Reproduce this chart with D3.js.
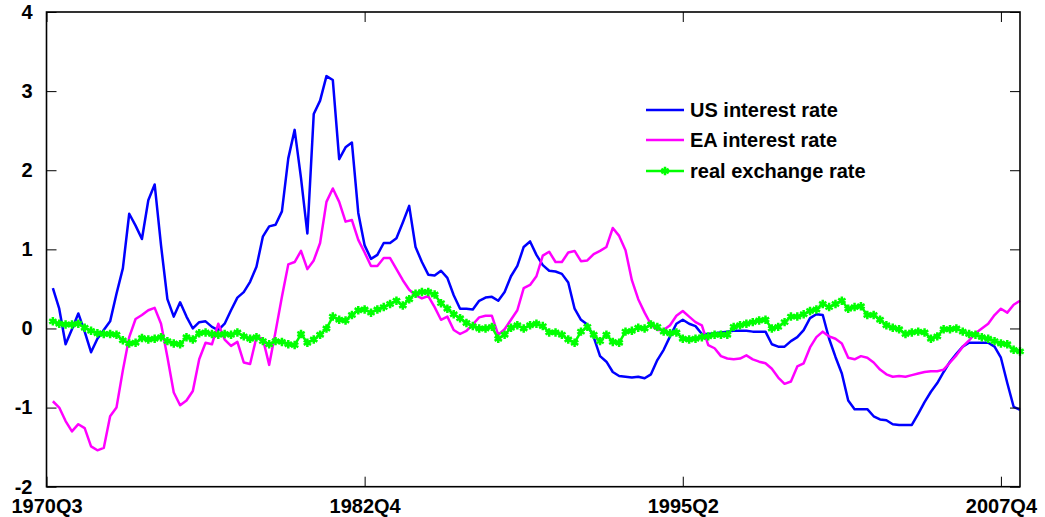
<!DOCTYPE html>
<html>
<head>
<meta charset="utf-8">
<script src="https://d3js.org/d3.v7.min.js"></script>
<style>
  html, body { margin: 0; padding: 0; background: #fff; }
  text { font-family: "Liberation Sans", Arial, Helvetica, sans-serif; font-weight: bold; }
</style>
</head>
<body>
<svg id="chart" width="1045" height="517"></svg>
<script>
// ---- data (quarterly, first observation is quarter index 2, 1970Q3 = index 1) ----
const firstIndex = 2;
const usRate = [0.51,0.25,-0.20,-0.01,0.19,-0.04,-0.30,-0.13,-0.02,0.09,
  0.44,0.76,1.45,1.30,1.13,1.62,1.82,1.05,0.37,0.15,
  0.33,0.15,0.00,0.08,0.09,0.02,-0.02,0.06,0.23,0.39,
  0.46,0.59,0.78,1.16,1.29,1.31,1.48,2.15,2.51,1.90,
  1.20,2.71,2.88,3.19,3.14,2.14,2.29,2.35,1.46,1.05,
  0.88,0.93,1.08,1.08,1.14,1.34,1.55,1.03,0.84,0.68,
  0.67,0.73,0.64,0.42,0.25,0.25,0.24,0.35,0.39,0.40,
  0.35,0.46,0.66,0.79,1.03,1.10,0.93,0.80,0.73,0.72,
  0.69,0.58,0.25,0.11,0.05,-0.11,-0.35,-0.42,-0.55,-0.60,
  -0.61,-0.62,-0.61,-0.63,-0.58,-0.40,-0.27,-0.10,0.06,0.11,
  0.06,0.03,-0.07,-0.07,-0.06,-0.05,-0.04,-0.03,-0.03,-0.03,
  -0.04,-0.04,-0.04,-0.20,-0.23,-0.23,-0.16,-0.11,-0.02,0.13,
  0.18,0.17,-0.13,-0.36,-0.57,-0.91,-1.02,-1.02,-1.02,-1.11,
  -1.15,-1.16,-1.21,-1.22,-1.22,-1.22,-1.08,-0.93,-0.80,-0.69,
  -0.55,-0.42,-0.32,-0.23,-0.18,-0.18,-0.18,-0.18,-0.23,-0.37,
  -0.69,-0.99,-1.03];
const eaRate = [-0.92,-1.00,-1.17,-1.30,-1.21,-1.26,-1.49,-1.54,-1.51,-1.11,
  -1.00,-0.53,-0.11,0.12,0.17,0.23,0.26,0.06,-0.36,-0.81,
  -0.97,-0.91,-0.79,-0.39,-0.18,-0.20,0.06,-0.14,-0.22,-0.17,
  -0.43,-0.45,-0.11,-0.13,-0.46,-0.04,0.40,0.81,0.84,0.98,
  0.75,0.86,1.08,1.60,1.77,1.60,1.35,1.37,1.12,0.96,
  0.79,0.79,0.89,0.89,0.75,0.61,0.49,0.42,0.38,0.41,
  0.27,0.11,0.15,-0.02,-0.07,-0.03,0.05,0.14,0.16,0.16,
  -0.08,-0.01,0.11,0.23,0.51,0.55,0.66,0.92,0.97,0.84,
  0.84,0.96,0.98,0.85,0.86,0.94,0.98,1.03,1.27,1.17,
  0.99,0.61,0.37,0.20,0.05,-0.02,-0.02,0.04,0.16,0.22,
  0.15,0.08,0.04,-0.21,-0.25,-0.35,-0.38,-0.39,-0.38,-0.34,
  -0.39,-0.42,-0.44,-0.51,-0.62,-0.70,-0.67,-0.48,-0.44,-0.24,
  -0.11,-0.04,-0.10,-0.13,-0.19,-0.37,-0.39,-0.35,-0.37,-0.43,
  -0.52,-0.58,-0.61,-0.60,-0.61,-0.59,-0.57,-0.55,-0.54,-0.54,
  -0.52,-0.43,-0.34,-0.23,-0.15,-0.06,0.00,0.06,0.17,0.25,
  0.20,0.30,0.35];
const realExRate = [0.09,0.06,0.05,0.05,0.06,0.01,-0.03,-0.06,-0.07,-0.07,
  -0.08,-0.15,-0.19,-0.18,-0.12,-0.14,-0.13,-0.11,-0.16,-0.19,
  -0.20,-0.11,-0.14,-0.06,-0.05,-0.07,-0.08,-0.07,-0.08,-0.05,
  -0.10,-0.13,-0.11,-0.16,-0.20,-0.16,-0.17,-0.20,-0.21,-0.07,
  -0.18,-0.14,-0.08,0.00,0.15,0.11,0.10,0.17,0.23,0.24,
  0.20,0.24,0.27,0.31,0.35,0.29,0.37,0.44,0.46,0.46,
  0.43,0.32,0.25,0.18,0.13,0.07,0.03,0.00,0.00,0.02,
  -0.13,-0.08,0.01,0.04,0.00,0.04,0.06,0.03,-0.05,-0.05,
  -0.08,-0.14,-0.18,-0.04,0.02,-0.08,-0.16,-0.08,-0.17,-0.18,
  -0.04,-0.03,0.01,0.00,0.05,0.02,-0.04,-0.06,-0.05,-0.13,
  -0.14,-0.13,-0.11,-0.10,-0.08,-0.08,-0.08,0.02,0.04,0.06,
  0.08,0.10,0.11,0.00,0.02,0.08,0.15,0.15,0.18,0.22,
  0.24,0.31,0.27,0.31,0.35,0.25,0.27,0.28,0.17,0.17,
  0.11,0.04,0.01,-0.01,-0.07,-0.05,-0.04,-0.05,-0.13,-0.10,
  -0.01,-0.01,0.00,-0.04,-0.07,-0.08,-0.11,-0.13,-0.16,-0.19,
  -0.20,-0.27,-0.29];
const xTickIndex = [1, 51, 101, 151];
const xTickLabels = ["1970Q3", "1982Q4", "1995Q2", "2007Q4"];
const yTicks = [-2, -1, 0, 1, 2, 3, 4];
const yTickLabels = ["-2", "-1", "0", "1", "2", "3", "4"];
const seriesNames = ["US interest rate", "EA interest rate", "real exchange rate"];
const seriesColors = ["#0000ff", "#ff00ff", "#00ff00"];

// ---- layout ----
const L = 46.5, R = 1020, T = 12, B = 486.7;
const svg = d3.select("#chart");
const x = d3.scaleLinear().domain([1, 154]).range([L, R]);
const y = d3.scaleLinear().domain([-2, 4]).range([B, T]);

const series = [usRate, eaRate, realExRate];
const line = d3.line().x((d, i) => x(firstIndex + i)).y(d => y(d));

const plot = svg.append("g");
series.forEach((s, k) => {
  plot.append("path").datum(s)
    .attr("fill", "none").attr("stroke", seriesColors[k])
    .attr("stroke-width", 2.5).attr("stroke-linejoin", "round")
    .attr("d", line);
});
const sym = d3.symbol().type(d3.symbolAsterisk).size(50);
plot.append("g").selectAll("path").data(realExRate).join("path")
  .attr("transform", (d, i) => `translate(${x(firstIndex + i)},${y(d)})`)
  .attr("d", sym).attr("fill", "none").attr("stroke", seriesColors[2]).attr("stroke-width", 2.5);

// ---- axes box & ticks (ticks inside, MATLAB style) ----
const tickLen = 10;
const axG = svg.append("g").attr("stroke", "#000").attr("stroke-width", 1.6);
axG.append("rect").attr("x", L).attr("y", T).attr("width", R - L).attr("height", B - T).attr("fill", "none");
const yAxisL = d3.axisLeft(y).tickValues(yTicks).tickSize(-tickLen).tickFormat((d, i) => yTickLabels[i]).tickPadding(14);
const yAxisR = d3.axisRight(y).tickValues(yTicks).tickSize(-tickLen).tickFormat("");
const xAxisB = d3.axisBottom(x).tickValues(xTickIndex).tickSize(-tickLen).tickFormat((d, i) => xTickLabels[i]).tickPadding(14);
const xAxisT = d3.axisTop(x).tickValues(xTickIndex).tickSize(-tickLen).tickFormat("");
function styleAxis(g) {
  g.select(".domain").remove();
  g.selectAll(".tick line").attr("stroke", "#000").attr("stroke-width", 1);
  g.selectAll(".tick text").attr("fill", "#000").style("font-size", "20px")
    .style("font-family", '"Liberation Sans", Arial, sans-serif').style("font-weight", "bold");
}
svg.append("g").attr("transform", `translate(${L},0)`).call(yAxisL).call(styleAxis);
svg.append("g").attr("transform", `translate(${R},0)`).call(yAxisR).call(styleAxis);
svg.append("g").attr("transform", `translate(0,${B})`).call(xAxisB).call(styleAxis)
  .selectAll(".tick text").attr("dy", "0.6em");
svg.append("g").attr("transform", `translate(0,${T})`).call(xAxisT).call(styleAxis);

// ---- legend ----
const legY = [110, 140, 171];
const leg = svg.append("g");
seriesNames.forEach((name, k) => {
  leg.append("line").attr("x1", 646).attr("x2", 684).attr("y1", legY[k]).attr("y2", legY[k])
    .attr("stroke", seriesColors[k]).attr("stroke-width", 2.5);
  if (k === 2) {
    leg.append("path").attr("transform", `translate(665,${legY[k]})`).attr("d", sym)
      .attr("fill", "none").attr("stroke", seriesColors[k]).attr("stroke-width", 2.5);
  }
  leg.append("text").attr("x", 690).attr("y", legY[k] + 7).attr("font-size", 20)
    .attr("fill", "#000").text(name);
});
</script>
</body>
</html>
